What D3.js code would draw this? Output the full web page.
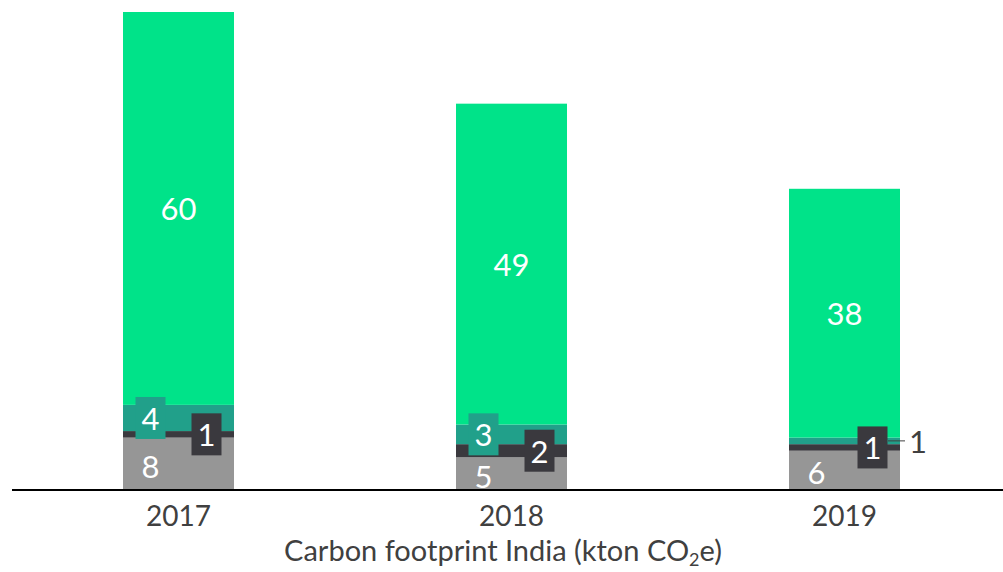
<!DOCTYPE html>
<html>
<head>
<meta charset="utf-8">
<script src="https://cdn.jsdelivr.net/npm/d3@7"></script>
<style>
  body { margin: 0; background: #fff; }
  svg { display: block; font-family: Lato, "Open Sans", sans-serif; }
</style>
</head>
<body>
<svg id="chart" width="1003" height="572"></svg>
<script>
// data
var years = ["2017", "2018", "2019"];
var seriesNames = ["gray", "dark", "teal", "green"];
var grayVals = [8, 5, 6];
var darkVals = [1, 2, 1];
var tealVals = [4, 3, 1];
var greenVals = [60, 49, 38];
var colors = ["#969696", "#3a393e", "#21a08a", "#00e389"];

var svg = d3.select("#chart");

var x = d3.scaleBand()
    .domain(years)
    .range([12, 1011])
    .paddingInner(2 / 3)
    .paddingOuter(1 / 3);

var y = d3.scaleLinear()
    .domain([0, 73])
    .range([490, 12]);

// build rows for stack
var rows = years.map((yr, i) => ({
    year: yr,
    gray: grayVals[i],
    dark: darkVals[i],
    teal: tealVals[i],
    green: greenVals[i]
}));

var stack = d3.stack().keys(seriesNames)(rows);

var layers = svg.append("g")
    .selectAll("g")
    .data(stack)
    .join("g")
    .attr("fill", (d, i) => colors[i]);

layers.selectAll("rect")
    .data(d => d)
    .join("rect")
    .attr("x", d => x(d.data.year))
    .attr("width", x.bandwidth())
    .attr("y", d => y(d[1]))
    .attr("height", d => y(d[0]) - y(d[1]));

// labels
var labels = svg.append("g")
    .attr("font-size", 31)
    .attr("text-anchor", "middle")
    .attr("dominant-baseline", "central");

stack.forEach((layer, li) => {
    layer.forEach(d => {
        var cx = x(d.data.year) + x.bandwidth() / 2;
        var cy = y((d[0] + d[1]) / 2);
        var val = d[1] - d[0];
        var key = layer.key;

        if (key === "green") {
            labels.append("text")
                .attr("x", cx).attr("y", cy)
                .attr("fill", "#fff")
                .text(val);
        } else if (key === "gray") {
            labels.append("text")
                .attr("x", cx - 28).attr("y", cy + 2)
                .attr("fill", "#fff")
                .text(val);
        } else if (key === "dark") {
            labels.append("rect")
                .attr("x", cx + 28 - 15).attr("y", cy - 21)
                .attr("width", 30).attr("height", 42)
                .attr("fill", colors[1]);
            labels.append("text")
                .attr("x", cx + 28).attr("y", cy)
                .attr("fill", "#fff")
                .text(val);
        } else if (key === "teal") {
            if (d.data.year === "2019") {
                // callout outside the bar
                var bx = x(d.data.year) + x.bandwidth();
                labels.append("line")
                    .attr("x1", bx - 12).attr("x2", bx + 5)
                    .attr("y1", cy).attr("y2", cy)
                    .attr("stroke", "#404040")
                    .attr("stroke-width", 1);
                labels.append("text")
                    .attr("x", bx + 18).attr("y", cy)
                    .attr("fill", "#404040")
                    .text(val);
            } else {
                labels.append("rect")
                    .attr("x", cx - 28 - 15).attr("y", cy - 21)
                    .attr("width", 30).attr("height", 42)
                    .attr("fill", colors[2]);
                labels.append("text")
                    .attr("x", cx - 28).attr("y", cy)
                    .attr("fill", "#fff")
                    .text(val);
            }
        }
    });
});

// x axis
var axis = svg.append("g")
    .attr("transform", "translate(0,490)")
    .call(d3.axisBottom(x).tickSize(0).tickPadding(16));

axis.select(".domain").remove();
axis.append("line")
    .attr("x1", 12).attr("x2", 1003)
    .attr("stroke", "#000")
    .attr("stroke-width", 2);

axis.selectAll(".tick text")
    .attr("font-size", 28)
    .attr("font-family", "Lato, 'Open Sans', sans-serif")
    .attr("fill", "#404040");

// axis title
var title = svg.append("text")
    .attr("x", 503)
    .attr("y", 561)
    .attr("text-anchor", "middle")
    .attr("font-size", 29)
    .attr("fill", "#404040")
    .text("Carbon footprint India (kton CO");
title.append("tspan").attr("font-size", 18).attr("dy", 5).text("2");
title.append("tspan").attr("dy", -5).text("e)");
</script>
</body>
</html>
